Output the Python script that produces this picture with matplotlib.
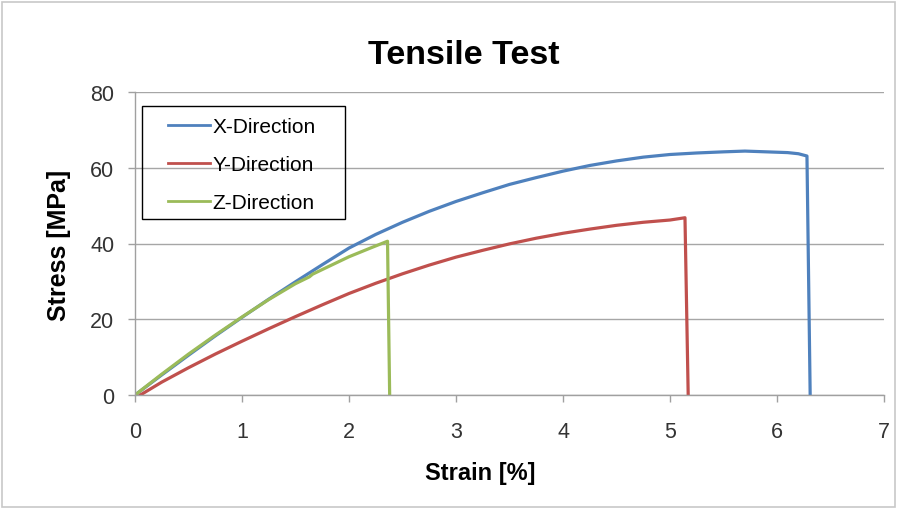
import matplotlib
matplotlib.use("Agg")
from matplotlib import pyplot as plt

plt.rcParams['font.family'] = ['Liberation Sans', 'DejaVu Sans']

# Werte (Dehnung in %, Spannung in MPa)
x_strain = [0.0, 0.25, 0.5, 0.75, 1.0, 1.25, 1.5, 1.75, 2.0, 2.25, 2.5, 2.75, 3.0, 3.25, 3.5,
            3.75, 4.0, 4.25, 4.5, 4.75, 5.0, 5.25, 5.5, 5.7, 5.9, 6.1, 6.2, 6.28, 6.31]
x_stress = [0.0, 5.3, 10.5, 15.6, 20.5, 25.3, 29.9, 34.4, 38.8, 42.4, 45.6, 48.5, 51.1, 53.4, 55.6,
            57.4, 59.1, 60.6, 61.8, 62.8, 63.5, 63.9, 64.2, 64.4, 64.2, 64.0, 63.7, 63.1, 0.0]

y_strain = [0.05, 0.25, 0.5, 0.75, 1.0, 1.25, 1.5, 1.75, 2.0, 2.25, 2.5, 2.75, 3.0, 3.25, 3.5,
            3.75, 4.0, 4.25, 4.5, 4.75, 5.0, 5.14, 5.17]
y_stress = [0.0, 3.4, 7.2, 10.8, 14.2, 17.5, 20.7, 23.8, 26.8, 29.5, 32.0, 34.3, 36.4, 38.2, 39.9,
            41.4, 42.7, 43.8, 44.8, 45.6, 46.2, 46.8, 0.0]

z_strain = [0.0, 0.25, 0.5, 0.75, 1.0, 1.25, 1.5, 1.63, 1.66, 1.8, 2.0, 2.2, 2.36, 2.38]
z_stress = [0.0, 5.5, 10.8, 15.8, 20.6, 25.2, 29.4, 31.2, 31.9, 33.8, 36.5, 38.8, 40.6, 0.0]

W, H = 898, 510
fig = plt.figure(figsize=(W / 100, H / 100), dpi=100)
ax = fig.add_axes([135 / W, 1 - 396 / H, 749 / W, 303 / H])

# Rahmen um das ganze Diagramm
fig.patches.append(plt.Rectangle((2 / W, 2 / H), 893 / W, 505 / H,
                                 transform=fig.transFigure, fill=False,
                                 edgecolor='#c8c8c8', linewidth=1.2))

ax.plot(x_strain, x_stress, color='#4F81BD', linewidth=2.3, label='X-Direction')
ax.plot(y_strain, y_stress, color='#C0504D', linewidth=2.3, label='Y-Direction')
ax.plot(z_strain, z_stress, color='#9BBB59', linewidth=2.3, label='Z-Direction')

ax.set_xlim(0, 7)
ax.set_ylim(0, 80)
ax.set_xticks(range(0, 8))
ax.set_yticks(range(0, 81, 20))
ax.yaxis.grid(True, color='#a6a6a6', linewidth=1.0)
ax.set_axisbelow(True)

for side in ['top', 'right']:
    ax.spines[side].set_visible(False)
for side in ['left', 'bottom']:
    ax.spines[side].set_color('#a0a0a0')
    ax.spines[side].set_linewidth(1.0)

ax.tick_params(axis='both', colors='#a0a0a0', labelcolor='#333333', labelsize=15.5,
               length=5, width=1.0)
ax.tick_params(axis='x', pad=14)
ax.tick_params(axis='y', pad=10)

fig.text(464 / W, 1 - 55 / H, 'Tensile Test', fontsize=24.5, fontweight='bold',
         ha='center', va='center')
fig.text(480 / W, 1 - 474 / H, 'Strain [%]', fontsize=17, fontweight='bold',
         ha='center', va='center')
fig.text(59 / W, 1 - 245 / H, 'Stress [MPa]', fontsize=18, fontweight='bold',
         ha='center', va='center', rotation=90)

# Legende: Rahmen separat zeichnen
fig.patches.append(plt.Rectangle((142 / W, 1 - 220 / H), 203 / W, 113 / H,
                                 transform=fig.transFigure, fill=False,
                                 edgecolor='#000000', linewidth=1.0, zorder=5))
leg = ax.legend(loc='upper left', bbox_to_anchor=(168 / W, 1 - 118 / H),
                bbox_transform=fig.transFigure, fontsize=15, frameon=False,
                handlelength=2.0, handletextpad=0.15, labelspacing=0.92,
                borderpad=0, borderaxespad=0)
for line in leg.get_lines():
    line.set_linewidth(2.0)

fig.savefig('out.png', dpi=100)
